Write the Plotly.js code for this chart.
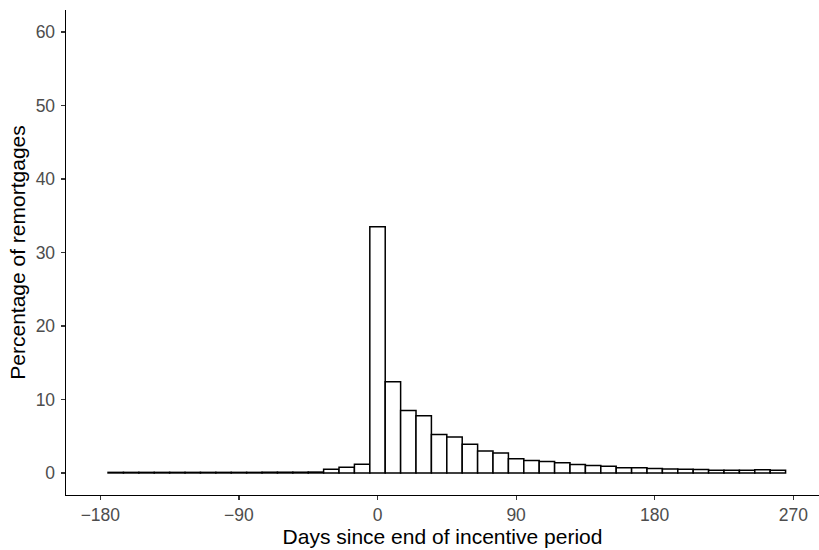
<!DOCTYPE html>
<html>
<head>
<meta charset="utf-8">
<script src="https://cdn.plot.ly/plotly-3.0.1.min.js"></script>
<style>html,body{margin:0;padding:0;background:#fff;}#chart{width:819px;height:550px;}</style>
</head>
<body>
<div id="chart"></div>
<script>
// Bin centres (days since end of incentive period), bin width 10 days
const binCenters = [-170,-160,-150,-140,-130,-120,-110,-100,-90,-80,-70,-60,-50,-40,-30,-20,-10,
  0,10,20,30,40,50,60,70,80,90,100,110,120,130,140,150,160,170,180,190,200,210,220,230,240,250,260];
// Percentage of remortgages in each bin
const percentages = [0.08,0.08,0.08,0.08,0.08,0.08,0.08,0.08,0.08,0.08,0.1,0.1,0.1,0.12,0.5,0.77,1.2,
  33.5,12.4,8.5,7.8,5.25,4.9,3.9,3.0,2.7,1.95,1.7,1.55,1.4,1.15,1.0,0.92,0.72,0.7,0.62,0.54,0.52,0.48,0.38,0.36,0.36,0.42,0.36];
const xTickVals = [-180,-90,0,90,180,270];
const xTickText = ["\u2212180","\u221290","0","90","180","270"];
const yTickVals = [0,10,20,30,40,50,60];

const trace = {
  type: 'bar',
  x: binCenters,
  y: percentages,
  width: 10,
  marker: {color: '#ffffff', line: {color: '#000000', width: 1.5}},
  hoverinfo: 'x+y'
};

const font = "'Liberation Sans', Arial, Helvetica, sans-serif";
const layout = {
  width: 819, height: 550,
  margin: {l: 66, r: 0, t: 10, b: 55},
  paper_bgcolor: '#ffffff', plot_bgcolor: '#ffffff',
  showlegend: false,
  bargap: 0,
  font: {family: font},
  xaxis: {
    range: [-202.3, 286.7],
    tickmode: 'array', tickvals: xTickVals, ticktext: xTickText,
    ticks: 'outside', ticklen: 4, tickwidth: 1.2, tickcolor: '#333333',
    tickfont: {size: 17.5, color: '#4d4d4d', family: font},
    ticklabelstandoff: 0,
    showline: true, linecolor: '#000000', linewidth: 1.4,
    showgrid: false, zeroline: false,
    title: {text: 'Days since end of incentive period', font: {size: 21, color: '#000000', family: font}, standoff: 2}
  },
  yaxis: {
    range: [-3, 63],
    tickmode: 'array', tickvals: yTickVals,
    ticks: 'outside', ticklen: 4, tickwidth: 1.2, tickcolor: '#333333',
    tickfont: {size: 17.5, color: '#4d4d4d', family: font},
    ticklabelstandoff: 2,
    showline: true, linecolor: '#000000', linewidth: 1.4,
    showgrid: false, zeroline: false,
    title: {text: 'Percentage of remortgages', font: {size: 21, color: '#000000', family: font}, standoff: 4}
  }
};

Plotly.newPlot('chart', [trace], layout, {displayModeBar: false, staticPlot: true});
</script>
</body>
</html>
